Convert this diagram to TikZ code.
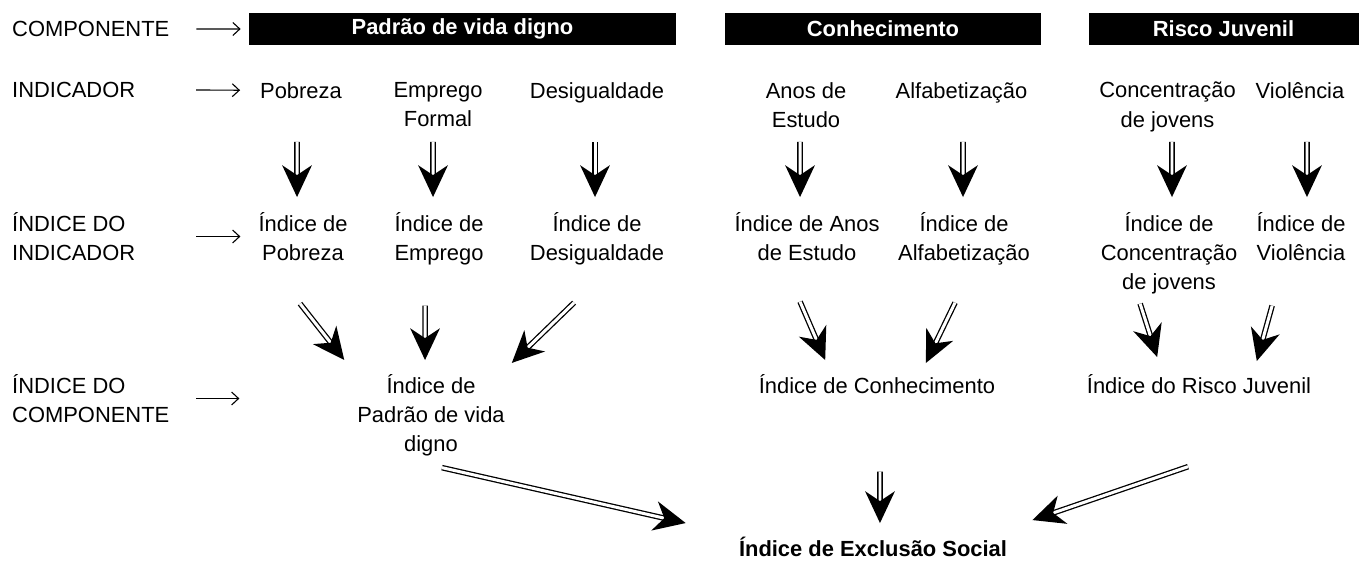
\documentclass[tikz,border=0pt]{standalone}
\usepackage{fontspec}
\setmainfont{Liberation Sans}
\usetikzlibrary{arrows.meta,decorations.markings}

\newcommand{\tamanho}{\fontsize{22}{29.5}\selectfont}

\tikzset{
  rotulo/.style={anchor=north west, align=left, inner sep=0pt},
  texto/.style={anchor=north, align=center, inner sep=0pt},
  caixa/.style={fill=black, text=white, font=\tamanho\bfseries, inner sep=0pt,
    minimum height=32pt},
  seta/.style={-{Straight Barb[length=7pt,width=13pt]}, line width=1.1pt},
  dupla/.style={draw, double, double distance=3pt, line width=1.3pt,
    shorten >=20pt,
    postaction={decorate, decoration={markings, mark=at position 1 with
      {\fill (0,0) -- (-32pt,15pt) -- (-22pt,0) -- (-32pt,-15pt) -- cycle;}}}},
}

\begin{document}
\begin{tikzpicture}[x=1bp, y=-1bp, font=\tamanho]
  \useasboundingbox (0,0) rectangle (1361,562);

  % niveis (coluna da esquerda)
  \node[rotulo] (lcomp) at (12,21) {COMPONENTE};
  \node[rotulo] (lind) at (12,82) {INDICADOR};
  \node[rotulo] (lindi) at (12,212) {ÍNDICE DO\\INDICADOR};
  \node[rotulo] (lcompi) at (12,374) {ÍNDICE DO\\COMPONENTE};

  % componentes
  \node[caixa, minimum width=429pt] (pvd) at (462.5,29) {Padrão de vida digno};
  \node[caixa, minimum width=318pt] (con) at (883,29) {Conhecimento};
  \node[caixa, minimum width=271pt] (rj) at (1223.5,29) {Risco Juvenil};

  % indicadores
  \node[texto] (pob) at (301,82) {Pobreza};
  \node[texto] (emp) at (438,82) {Emprego\\Formal};
  \node[texto] (des) at (597,82) {Desigualdade};
  \node[texto] (anos) at (806,82) {Anos de\\Estudo};
  \node[texto] (alf) at (961.5,82) {Alfabetização};
  \node[texto] (conc) at (1167.5,82) {Concentração\\de jovens};
  \node[texto] (vio) at (1300,82) {Violência};

  % indices dos indicadores
  \node[texto] (ipob) at (303,212) {Índice de\\Pobreza};
  \node[texto] (iemp) at (439,212) {Índice de\\Emprego};
  \node[texto] (ides) at (597,212) {Índice de\\Desigualdade};
  \node[texto] (ianos) at (807,212) {Índice de Anos\\de Estudo};
  \node[texto] (ialf) at (964,212) {Índice de\\Alfabetização};
  \node[texto] (iconc) at (1169,212) {Índice de\\Concentração\\de jovens};
  \node[texto] (ivio) at (1301,212) {Índice de\\Violência};

  % indices dos componentes
  \node[texto] (ipvd) at (431,374) {Índice de\\Padrão de vida\\digno};
  \node[texto] (icon) at (877,374) {Índice de Conhecimento};
  \node[texto] (irj) at (1199,374) {Índice do Risco Juvenil};

  \node[texto, font=\tamanho\bfseries] (ies) at (873,537) {Índice de Exclusão Social};

  % setas simples
  \draw[seta] ([xshift=27pt]lcomp.east) -- ([xshift=-8pt]pvd.west);
  \draw[seta] ([xshift=61pt]lind.east) -- ([xshift=-20pt]pob.west);
  \draw[seta] ([xshift=61pt]lindi.east) -- ([xshift=-18pt]ipob.west);
  \draw[seta] ([xshift=27pt]lcompi.east) -- ++(43,0);

  % indicador -> indice
  \draw[dupla] ([xshift=-4pt,yshift=-60pt]pob.north) -- ([xshift=-6pt,yshift=15pt]ipob.north);
  \draw[dupla] ([xshift=-5pt,yshift=-60pt]emp.north) -- ([xshift=-6pt,yshift=15pt]iemp.north);
  \draw[dupla] ([xshift=-2pt,yshift=-60pt]des.north) -- ([xshift=-2pt,yshift=15pt]ides.north);
  \draw[dupla] ([xshift=-6pt,yshift=-60pt]anos.north) -- ([xshift=-7pt,yshift=15pt]ianos.north);
  \draw[dupla] ([xshift=1.5pt,yshift=-60pt]alf.north) -- ([xshift=-1pt,yshift=15pt]ialf.north);
  \draw[dupla] ([xshift=4.5pt,yshift=-60pt]conc.north) -- ([xshift=3pt,yshift=15pt]iconc.north);
  \draw[dupla] ([xshift=7pt,yshift=-60pt]vio.north) -- ([xshift=6pt,yshift=15pt]ivio.north);

  % indice -> componente
  \draw[dupla] ([xshift=-3pt,yshift=-92pt]ipob.north) -- ([xshift=-87pt,yshift=14pt]ipvd.north);
  \draw[dupla] ([xshift=-14pt,yshift=-94pt]iemp.north) -- ([xshift=-6pt,yshift=14pt]ipvd.north);
  \draw[dupla] ([xshift=-23pt,yshift=-91pt]ides.north) -- ([xshift=81pt,yshift=11pt]ipvd.north);
  \draw[dupla] ([xshift=-7pt,yshift=-90pt]ianos.north) -- ([xshift=-52pt,yshift=14pt]icon.north);
  \draw[dupla] ([xshift=-9pt,yshift=-91pt]ialf.north) -- ([xshift=49pt,yshift=11pt]icon.north);
  \draw[dupla] ([xshift=-29pt,yshift=-92pt]iconc.north) -- ([xshift=-42pt,yshift=17pt]irj.north);
  \draw[dupla] ([xshift=-29pt,yshift=-94pt]ivio.north) -- ([xshift=58pt,yshift=13pt]irj.north);

  % componente -> indice final
  \draw[dupla] ([xshift=11pt,yshift=-94pt]ipvd.north) -- ([xshift=-188pt,yshift=14pt]ies.north);
  \draw[dupla] ([xshift=3pt,yshift=-98pt]icon.north) -- ([xshift=7pt,yshift=14pt]ies.north);
  \draw[dupla] ([xshift=-11pt,yshift=-93pt]irj.north) -- ([xshift=160pt,yshift=17pt]ies.north);
\end{tikzpicture}
\end{document}
